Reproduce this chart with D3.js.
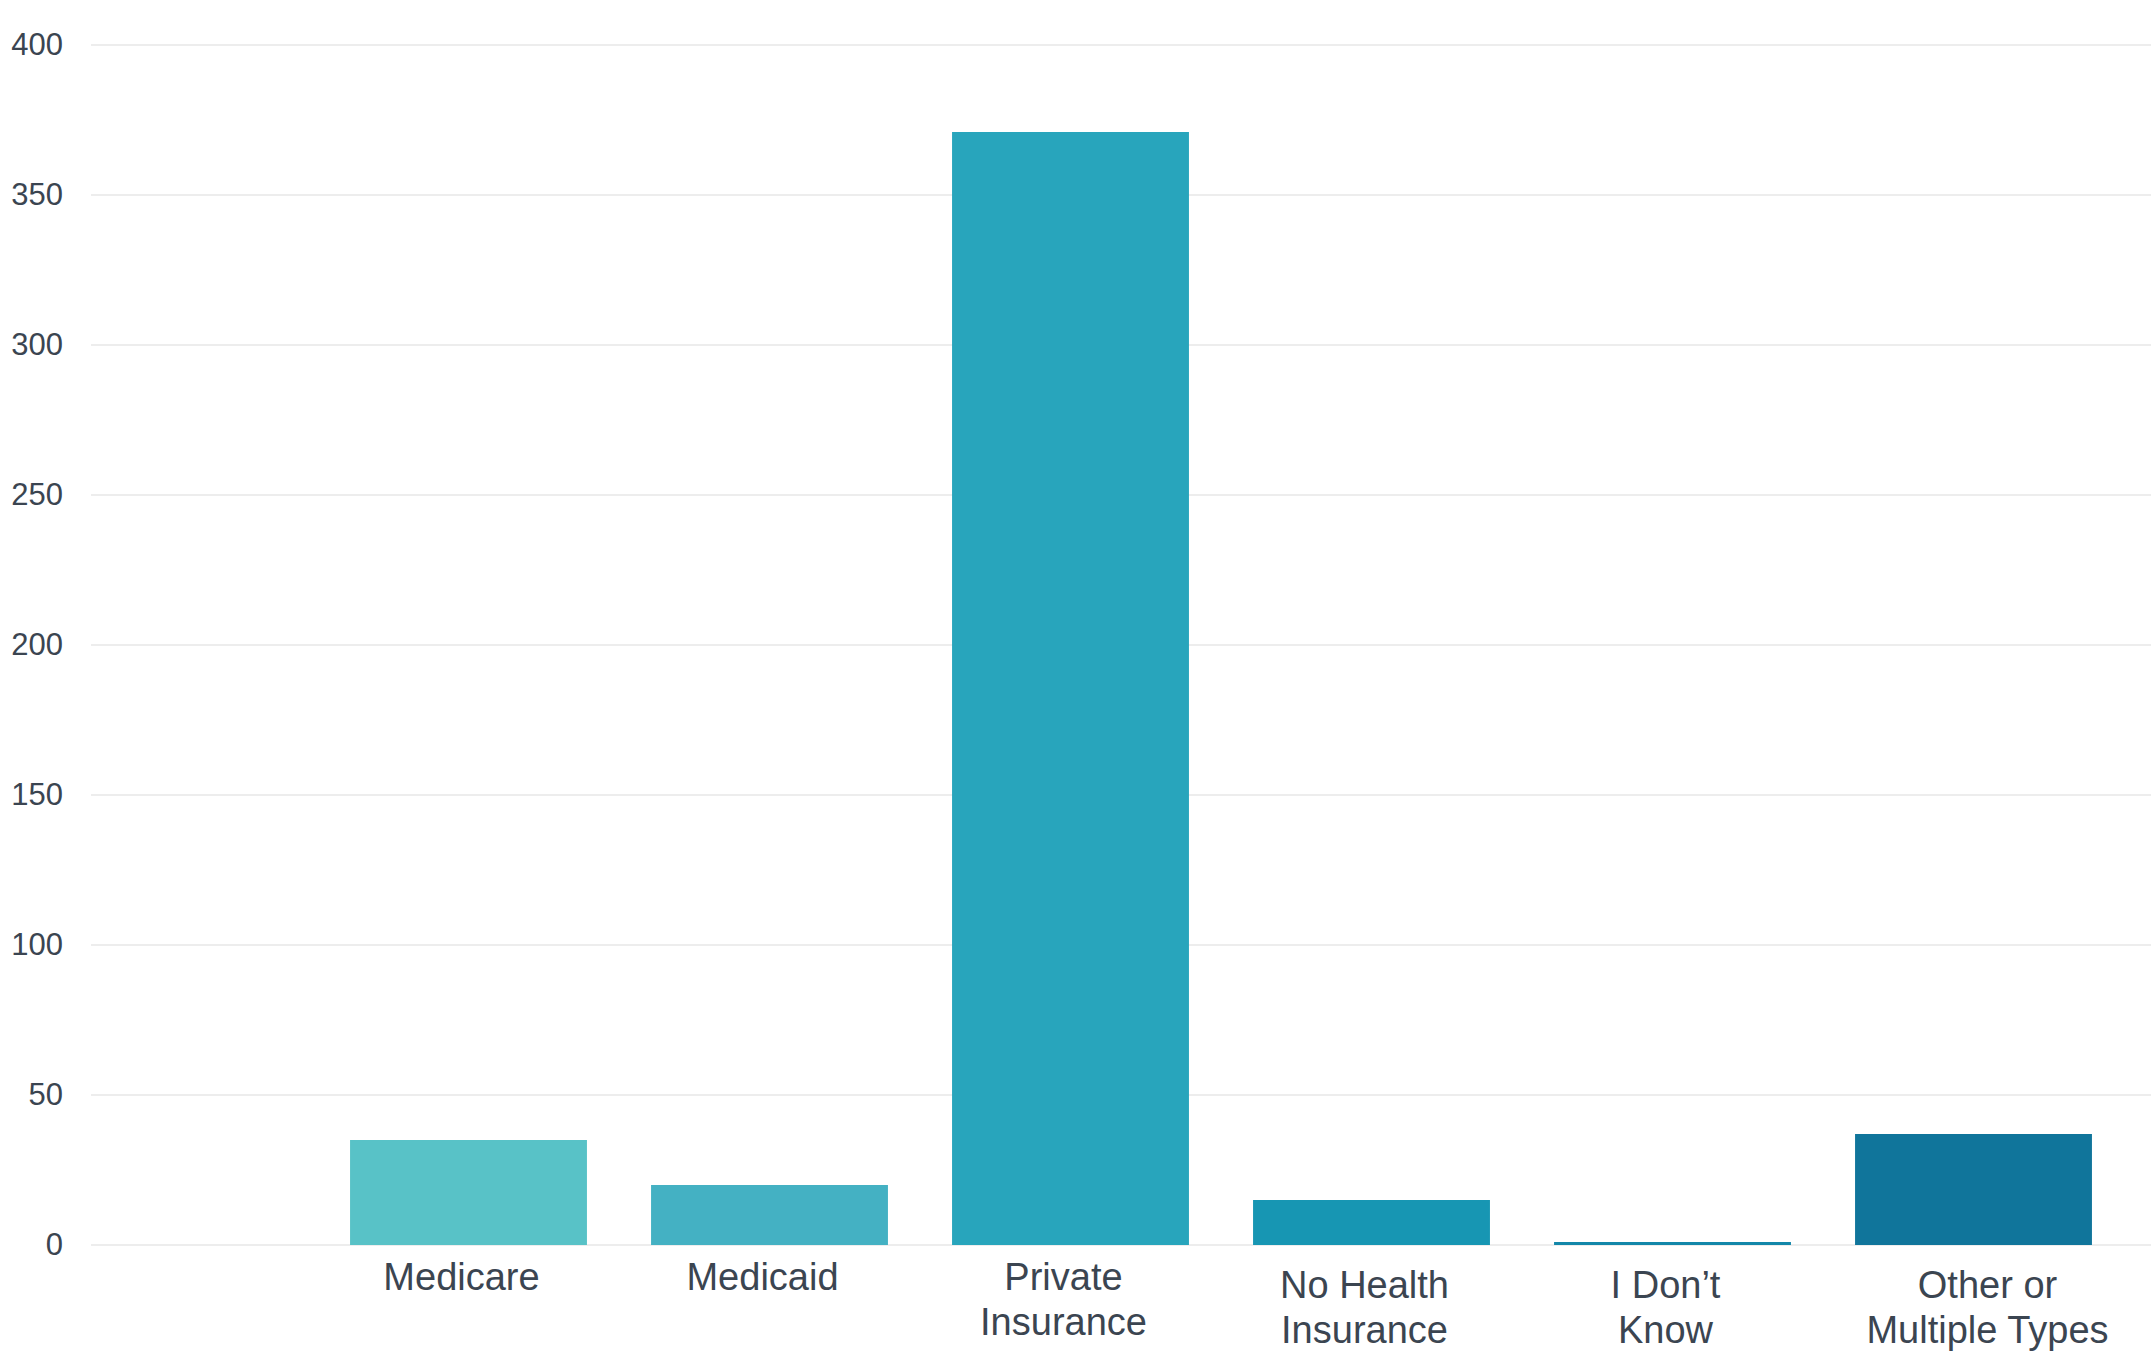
<!DOCTYPE html>
<html>
<head>
<meta charset="utf-8">
<script src="https://cdn.jsdelivr.net/npm/d3@7"></script>
<style>
  html, body { margin: 0; padding: 0; background: #ffffff; }
  svg { display: block; font-family: "Liberation Sans", Arial, sans-serif; }
</style>
</head>
<body>
<svg id="chart" width="2151" height="1355"></svg>
<script>
// Health insurance coverage counts; the first slot is left empty on purpose.
const categories = ["", "Medicare", "Medicaid", "Private Insurance", "No Health Insurance", "I Don’t Know", "Other or Multiple Types"];
const labelLines = [[], ["Medicare"], ["Medicaid"], ["Private", "Insurance"], ["No Health", "Insurance"], ["I Don’t", "Know"], ["Other or", "Multiple Types"]];
const values = [null, 35, 20, 371, 15, 1, 37];
const barColors = [null, "#58c2c7", "#44b1c3", "#28a5bc", "#1796b3", "#1387a9", "#10759b"];
const yTicks = [0, 50, 100, 150, 200, 250, 300, 350, 400];

const svg = d3.select("#chart");
const gridLeft = 91, gridRight = 2151;
const plotTop = 45, plotBottom = 1245;

const x = d3.scaleBand()
  .domain(categories)
  .range([17, 2124])
  .paddingInner(0.213)
  .paddingOuter(0.1065);

const y = d3.scaleLinear()
  .domain([0, 400])
  .range([plotBottom, plotTop]);

// Horizontal grid lines
svg.append("g")
  .selectAll("line")
  .data(yTicks)
  .join("line")
  .attr("x1", gridLeft)
  .attr("x2", gridRight)
  .attr("y1", d => y(d))
  .attr("y2", d => y(d))
  .attr("stroke", "#ededed")
  .attr("stroke-width", 2);

// Y axis labels
const yAxis = d3.axisLeft(y).tickValues(yTicks).tickSize(0).tickPadding(0);
const yg = svg.append("g").attr("transform", "translate(63,0)").call(yAxis);
yg.select(".domain").remove();
yg.selectAll("text")
  .attr("font-size", 31)
  .attr("fill", "#3b4551")
  .attr("font-family", "'Liberation Sans', Arial, sans-serif");

// Bars
const data = categories.map((c, i) => ({ c, v: values[i], color: barColors[i], lines: labelLines[i], i }))
  .filter(d => d.v !== null);

svg.append("g")
  .selectAll("rect")
  .data(data)
  .join("rect")
  .attr("x", d => x(d.c))
  .attr("width", x.bandwidth())
  .attr("y", d => y(d.v))
  .attr("height", d => y(0) - y(d.v))
  .attr("fill", d => d.color);

// Category labels under the bars (two-line labels sit a little lower)
const labels = svg.append("g")
  .selectAll("text")
  .data(data)
  .join("text")
  .attr("text-anchor", "middle")
  .attr("font-size", 38)
  .attr("fill", "#3b4551")
  .attr("transform", d => {
    const cx = x(d.c) + x.bandwidth() / 2;
    const shift = d.i >= 4 ? 8 : 0;
    const dx = d.i === 6 ? 14 : -7;
    return `translate(${cx + dx},${1290 + shift})`;
  });

labels.selectAll("tspan")
  .data(d => d.lines)
  .join("tspan")
  .attr("x", 0)
  .attr("dy", (t, j) => j === 0 ? 0 : 45)
  .text(t => t);
</script>
</body>
</html>
